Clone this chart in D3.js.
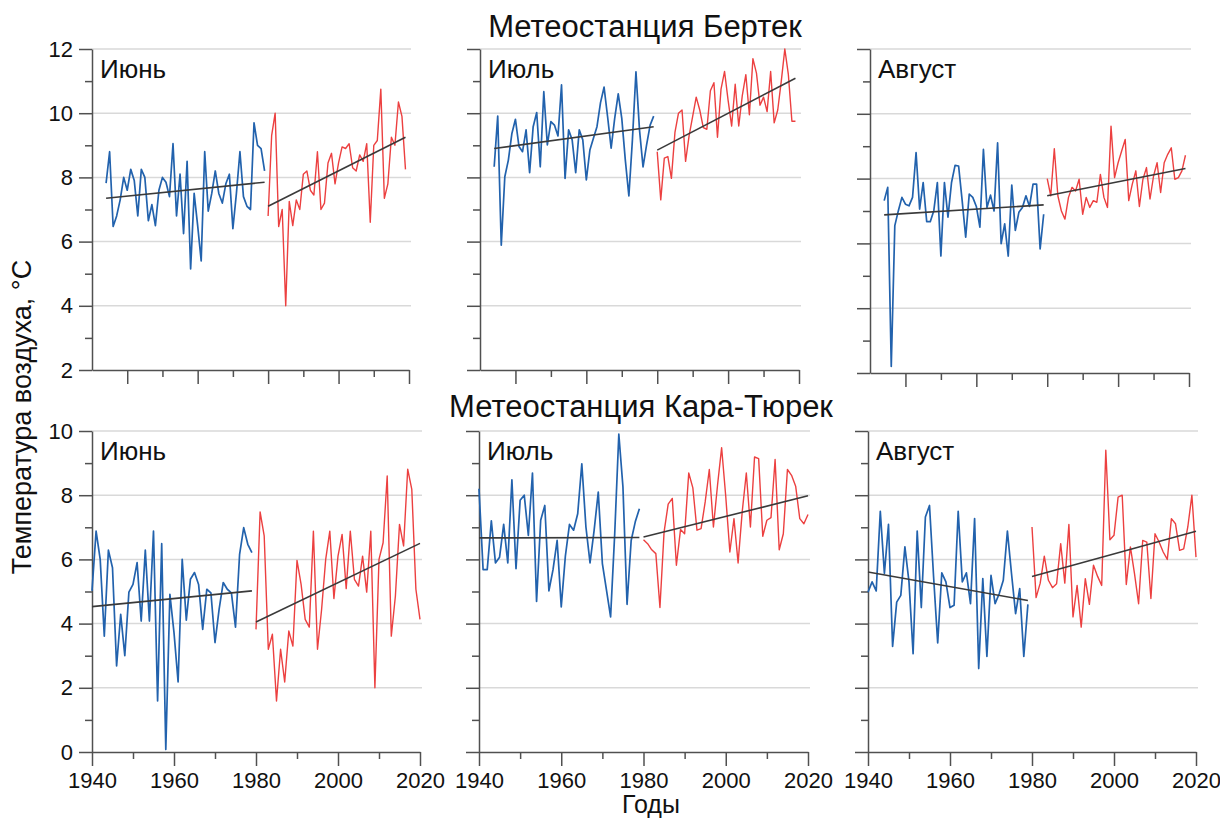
<!DOCTYPE html>
<html>
<head>
<meta charset="utf-8">
<script src="https://cdn.jsdelivr.net/npm/d3@7"></script>
<style>
  body { margin: 0; background: #fff; }
  svg { font-family: "Liberation Sans", Arial, sans-serif; }
</style>
</head>
<body>
<svg id="chart" width="1220" height="818"></svg>
<script>
// ---- data ----
var stations = ["Метеостанция Бертек", "Метеостанция Кара-Тюрек"];
var months = ["Июнь", "Июль", "Август"];
var bertekStart = 1934, karaStart = 1940, splitYear = 1980;
var xTicksMajor = [1940, 1960, 1980, 2000, 2020];
var xTicksMinor = [1950, 1970, 1990, 2010];

// Бертек, 1934-1979 (blue) and 1980-2019 (red)
var bertekJuneBlue = [7.82, 8.8, 6.47, 6.8, 7.3, 8.0, 7.6, 8.25, 7.9, 6.8, 8.25, 8.0, 6.65, 7.15, 6.5, 7.6,
  8.0, 7.85, 7.4, 9.05, 6.8, 8.1, 6.25, 8.5, 5.15, 7.5, 6.5, 5.4, 8.8, 6.95, 7.5, 8.2, 7.5, 7.2, 7.8, 8.1,
  6.4, 7.5, 8.8, 7.4, 7.1, 7.0, 9.7, 9.0, 8.9, 8.2];
var bertekJuneRed = [6.8, 9.3, 10.0, 6.47, 7.0, 4.0, 7.25, 6.5, 7.3, 7.0, 8.1, 8.2, 7.6, 7.45, 8.8, 7.0, 7.2,
  8.45, 8.75, 7.8, 8.45, 8.95, 8.9, 9.05, 8.3, 8.2, 8.7, 8.5, 9.05, 6.6, 9.0, 9.15, 10.75, 7.35, 7.8, 9.25,
  9.0, 10.35, 9.9, 8.25];
var bertekJulyBlue = [8.33, 9.91, 5.89, 8.02, 8.54, 9.37, 9.81, 8.96, 8.8, 9.48, 8.15, 9.58, 10.02, 8.33,
  10.67, 9.01, 9.74, 9.63, 9.29, 10.88, 7.97, 9.48, 9.17, 8.15, 9.48, 9.17, 7.92, 8.85, 9.22, 9.58, 10.33,
  10.81, 9.89, 8.91, 9.84, 10.6, 9.84, 8.54, 7.42, 9.17, 11.29, 9.48, 8.33, 9.01, 9.63, 9.91];
var bertekJulyRed = [8.8, 7.3, 8.6, 8.65, 7.97, 9.4, 10.0, 10.1, 8.5, 9.3, 9.9, 10.5, 10.1, 9.55, 9.5, 10.7,
  10.95, 9.25, 10.75, 11.3, 10.4, 9.6, 10.9, 9.6, 10.55, 11.2, 9.95, 11.7, 11.25, 10.25, 10.5, 10.05, 11.3,
  9.7, 10.1, 11.0, 12.0, 11.2, 9.75, 9.75];
var bertekAugBlue = [7.32, 7.73, 2.2, 6.55, 7.01, 7.42, 7.21, 7.16, 7.42, 8.8, 7.06, 7.88, 6.67, 6.67, 7.01,
  7.88, 5.61, 7.88, 6.81, 7.88, 8.41, 8.39, 7.32, 6.19, 7.52, 7.42, 7.14, 6.5, 8.9, 7.11, 7.49, 7.0, 9.1,
  5.99, 6.6, 5.61, 7.8, 6.4, 6.96, 7.11, 7.47, 7.14, 7.83, 7.83, 5.83, 6.9];
var bertekAugRed = [8.0, 7.47, 8.92, 7.47, 7.0, 6.75, 7.42, 7.73, 7.62, 7.98, 6.9, 7.42, 7.11, 7.32, 7.27,
  8.13, 7.42, 7.11, 9.62, 8.03, 8.49, 8.85, 9.21, 7.32, 7.83, 8.24, 7.14, 7.98, 8.34, 7.37, 8.08, 8.49,
  7.57, 8.49, 8.75, 8.95, 7.98, 8.03, 8.24, 8.72];

// Кара-Тюрек, 1940-1979 (blue) and 1980-2020 (red)
var karaJuneBlue = [5.02, 6.88, 6.0, 3.61, 6.29, 5.74, 2.68, 4.29, 3.0, 4.98, 5.22, 5.9, 4.08, 6.29, 4.08,
  6.88, 1.59, 6.49, 0.08, 4.91, 3.72, 2.18, 6.0, 4.11, 5.38, 5.59, 5.22, 3.82, 5.07, 4.96, 3.41, 4.44, 5.28,
  5.07, 4.96, 3.89, 6.16, 6.99, 6.47, 6.21];
var karaJuneRed = [3.82, 7.48, 6.73, 3.2, 3.67, 1.59, 3.2, 2.18, 3.77, 3.3, 5.97, 5.22, 4.13, 3.89, 6.88, 3.2,
  4.44, 6.0, 6.88, 4.78, 6.1, 6.78, 5.09, 6.88, 5.38, 5.17, 6.1, 4.98, 6.88, 2.0, 6.0, 6.52, 8.6, 3.61, 4.86,
  7.09, 6.42, 8.81, 8.18, 5.07, 4.13];
var karaJulyBlue = [8.2, 5.68, 5.68, 7.2, 5.89, 6.07, 7.09, 5.89, 8.48, 5.71, 7.84, 8.0, 6.75, 8.69, 4.69,
  7.22, 7.68, 5.02, 5.68, 6.59, 4.52, 6.1, 7.09, 6.91, 7.42, 8.98, 7.01, 5.89, 6.91, 8.1, 5.87, 5.04, 4.21,
  6.8, 9.9, 8.26, 4.6, 6.59, 7.17, 7.58];
var karaJulyRed = [6.61, 6.49, 6.3, 6.18, 4.5, 6.85, 7.72, 7.9, 5.82, 6.93, 6.8, 8.69, 8.23, 6.91, 6.96, 7.79,
  8.8, 7.01, 8.31, 9.48, 7.96, 6.23, 7.27, 5.89, 7.48, 8.69, 7.01, 9.19, 9.14, 6.72, 7.22, 7.3, 9.11, 6.3,
  6.8, 8.8, 8.62, 8.28, 7.27, 7.11, 7.4];
var karaAugBlue = [4.98, 5.3, 5.02, 7.5, 5.56, 7.09, 3.29, 4.67, 4.88, 6.39, 5.3, 3.06, 6.88, 4.5, 7.32, 7.68,
  5.45, 3.4, 5.58, 5.3, 4.5, 4.57, 7.5, 5.3, 5.58, 4.62, 7.27, 2.6, 5.4, 2.98, 5.5, 4.62, 4.93, 5.35, 6.88,
  5.56, 4.31, 5.09, 2.98, 4.6];
var karaAugRed = [7.01, 4.81, 5.26, 6.1, 5.35, 5.12, 5.24, 6.49, 5.26, 7.09, 4.21, 5.19, 3.89, 5.4, 4.6, 5.82,
  5.47, 5.19, 9.4, 6.61, 6.75, 7.94, 8.0, 5.22, 6.39, 5.56, 4.62, 6.59, 6.54, 4.78, 6.8, 6.54, 6.23, 6.0,
  7.27, 7.11, 6.28, 6.33, 7.01, 8.0, 6.07];

// trend lines: [value at start, value at end] for the early and the late period
var bertekJuneTrend = [[7.35, 7.85], [7.1, 9.25]];
var bertekJulyTrend = [[8.9, 9.58], [8.85, 11.09]];
var bertekAugTrend = [[6.88, 7.19], [7.47, 8.31]];
var karaJuneTrend = [[4.53, 5.02], [4.05, 6.5]];
var karaJulyTrend = [[6.67, 6.68], [6.7, 7.98]];
var karaAugTrend = [[5.61, 4.72], [5.47, 6.88]];

// ---- layout ----
var panels = [
  {row: 0, col: 0, left: 92, right: 409, top: 49, bottom: 370, blue: bertekJuneBlue, red: bertekJuneRed, trend: bertekJuneTrend},
  {row: 0, col: 1, left: 480, right: 799, top: 49, bottom: 370, blue: bertekJulyBlue, red: bertekJulyRed, trend: bertekJulyTrend},
  {row: 0, col: 2, left: 870, right: 1189, top: 49, bottom: 373, blue: bertekAugBlue, red: bertekAugRed, trend: bertekAugTrend},
  {row: 1, col: 0, left: 92, right: 420, top: 431, bottom: 752, blue: karaJuneBlue, red: karaJuneRed, trend: karaJuneTrend},
  {row: 1, col: 1, left: 479, right: 808, top: 431, bottom: 752, blue: karaJulyBlue, red: karaJulyRed, trend: karaJulyTrend},
  {row: 1, col: 2, left: 868, right: 1196, top: 431, bottom: 752, blue: karaAugBlue, red: karaAugRed, trend: karaAugTrend}
];
var rowCfg = [
  {xDomain: [1930, 2020], yDomain: [2, 12], start: bertekStart, titleX: 645, titleY: 37},
  {xDomain: [1940, 2020], yDomain: [0, 10], start: karaStart, titleX: 641, titleY: 417}
];

var blueColor = "#2262ad", redColor = "#ec4040", trendColor = "#3a3a3a",
    gridColor = "#d9d9d9", axisColor = "#505050";

var svg = d3.select("#chart");

// station titles
svg.selectAll("text.title")
  .data(stations)
  .enter().append("text")
    .attr("class", "title")
    .attr("x", function(d, i) { return rowCfg[i].titleX; })
    .attr("y", function(d, i) { return rowCfg[i].titleY; })
    .attr("text-anchor", "middle")
    .attr("font-size", 31)
    .attr("fill", "#111")
    .text(function(d) { return d; });

panels.forEach(function(p) {
  var cfg = rowCfg[p.row];
  var x = d3.scaleLinear().domain(cfg.xDomain).range([p.left, p.right]);
  var y = d3.scaleLinear().domain(cfg.yDomain).range([p.bottom, p.top]);
  var g = svg.append("g");

  var yMajor = d3.range(cfg.yDomain[0], cfg.yDomain[1] + 1, 2);
  var yMinor = d3.range(cfg.yDomain[0] + 1, cfg.yDomain[1], 2);

  // gridlines
  g.selectAll("line.grid")
    .data(yMajor.slice(1))
    .enter().append("line")
      .attr("class", "grid")
      .attr("x1", p.left).attr("x2", p.right + 2)
      .attr("y1", function(d) { return y(d); })
      .attr("y2", function(d) { return y(d); })
      .attr("stroke", gridColor)
      .attr("stroke-width", 1.5);

  // y axis
  g.append("g")
    .attr("transform", "translate(" + p.left + ",0)")
    .call(d3.axisLeft(y).tickValues(yMajor).tickSize(13).tickSizeOuter(0).tickPadding(6)
      .tickFormat(p.col === 0 ? d3.format("d") : ""));
  g.append("g")
    .attr("transform", "translate(" + p.left + ",0)")
    .call(d3.axisLeft(y).tickValues(yMinor).tickSize(7).tickFormat(""))
    .select(".domain").remove();

  // x axis
  g.append("g")
    .attr("transform", "translate(0," + p.bottom + ")")
    .call(d3.axisBottom(x).tickValues(xTicksMajor).tickSize(14).tickSizeOuter(0).tickPadding(6)
      .tickFormat(p.row === 1 ? d3.format("d") : ""));
  g.append("g")
    .attr("transform", "translate(0," + p.bottom + ")")
    .call(d3.axisBottom(x).tickValues(xTicksMinor).tickSize(7).tickFormat(""))
    .select(".domain").remove();

  g.selectAll(".domain, .tick line")
    .attr("stroke", axisColor)
    .attr("stroke-width", 1.5);
  g.selectAll(".tick text")
    .attr("fill", "#111")
    .attr("font-family", "\"Liberation Sans\", Arial, sans-serif")
    .attr("font-size", 22);

  // series lines
  var line = d3.line()
    .x(function(d) { return x(d[0]); })
    .y(function(d) { return y(d[1]); });

  var bluePts = p.blue.map(function(v, i) { return [cfg.start + i, v]; });
  var redPts = p.red.map(function(v, i) { return [splitYear + i, v]; });

  g.append("path")
    .datum(bluePts)
    .attr("d", line)
    .attr("fill", "none")
    .attr("stroke", blueColor)
    .attr("stroke-width", 1.7)
    .attr("stroke-linejoin", "round");

  g.append("path")
    .datum(redPts)
    .attr("d", line)
    .attr("fill", "none")
    .attr("stroke", redColor)
    .attr("stroke-width", 1.4)
    .attr("stroke-linejoin", "round");

  // trend lines
  var trends = [
    [[bluePts[0][0], p.trend[0][0]], [bluePts[bluePts.length - 1][0], p.trend[0][1]]],
    [[redPts[0][0], p.trend[1][0]], [redPts[redPts.length - 1][0], p.trend[1][1]]]
  ];
  g.selectAll("path.trend")
    .data(trends)
    .enter().append("path")
      .attr("class", "trend")
      .attr("d", line)
      .attr("fill", "none")
      .attr("stroke", trendColor)
      .attr("stroke-width", 1.6);

  // month label
  g.append("text")
    .attr("x", p.left + 8)
    .attr("y", p.top + 29)
    .attr("font-size", 26)
    .attr("fill", "#111")
    .text(months[p.col]);
});

// axis titles
svg.append("text")
  .attr("transform", "translate(31,417) rotate(-90)")
  .attr("text-anchor", "middle")
  .attr("font-size", 27)
  .attr("fill", "#111")
  .text("Температура воздуха, °С");

svg.append("text")
  .attr("x", 651)
  .attr("y", 813)
  .attr("text-anchor", "middle")
  .attr("font-size", 25)
  .attr("fill", "#111")
  .text("Годы");
</script>
</body>
</html>
